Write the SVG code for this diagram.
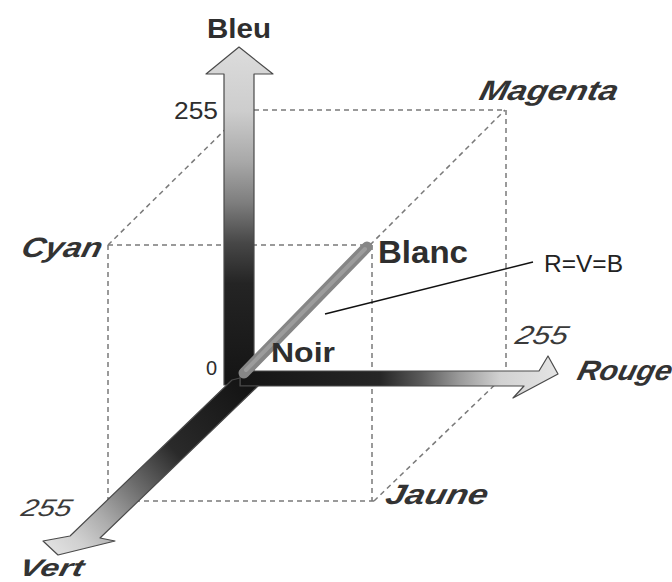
<svg xmlns="http://www.w3.org/2000/svg" width="672" height="582" viewBox="0 0 672 582">
  <style>
    .edge { fill: none; stroke: #7a7a7a; stroke-width: 1.5; stroke-dasharray: 5 4; }
    .shaft { stroke: #4a4a4a; stroke-width: 1.2; stroke-linejoin: round; }
    .bold { font-family: "Liberation Sans", Arial, sans-serif; font-weight: bold; fill: #2e2e2e; }
    .ital { font-family: "Liberation Sans", Arial, sans-serif; font-weight: bold; font-style: italic; fill: #333; }
    .ital255 { font-family: "Liberation Sans", Arial, sans-serif; font-style: italic; fill: #3a3a3a; }
    .num { font-family: "Liberation Sans", Arial, sans-serif; fill: #2e2e2e; }
    .note { font-family: "Liberation Sans", Arial, sans-serif; fill: #222; }
  </style>
  <defs>
    <linearGradient id="gBleu" gradientUnits="userSpaceOnUse" x1="0" y1="47" x2="0" y2="385">
      <stop offset="0" stop-color="#dcdcdc"/>
      <stop offset="0.19" stop-color="#cdcdcd"/>
      <stop offset="0.34" stop-color="#a8a8a8"/>
      <stop offset="0.46" stop-color="#7e7e7e"/>
      <stop offset="0.58" stop-color="#474747"/>
      <stop offset="0.70" stop-color="#242424"/>
      <stop offset="1" stop-color="#141414"/>
    </linearGradient>
    <linearGradient id="gRouge" gradientUnits="userSpaceOnUse" x1="240" y1="0" x2="558" y2="0">
      <stop offset="0" stop-color="#141414"/>
      <stop offset="0.44" stop-color="#262626"/>
      <stop offset="0.57" stop-color="#5a5a5a"/>
      <stop offset="0.69" stop-color="#9a9a9a"/>
      <stop offset="0.82" stop-color="#d2d2d2"/>
      <stop offset="1" stop-color="#e4e4e4"/>
    </linearGradient>
    <linearGradient id="gVert" gradientUnits="userSpaceOnUse" x1="240" y1="380" x2="55" y2="552">
      <stop offset="0" stop-color="#141414"/>
      <stop offset="0.38" stop-color="#2a2a2a"/>
      <stop offset="0.58" stop-color="#6a6a6a"/>
      <stop offset="0.77" stop-color="#acacac"/>
      <stop offset="0.9" stop-color="#d0d0d0"/>
      <stop offset="1" stop-color="#e0e0e0"/>
    </linearGradient>
  </defs>

  <g id="connectors">
    <line class="edge" x1="245" y1="110" x2="505" y2="110"/>
    <line class="edge" x1="108" y1="245" x2="245" y2="110"/>
    <line class="edge" x1="108" y1="245" x2="370" y2="245"/>
    <line class="edge" x1="370" y1="245" x2="505" y2="110"/>
    <line class="edge" x1="108" y1="245" x2="108" y2="500"/>
    <line class="edge" x1="372" y1="245" x2="372" y2="501"/>
    <line class="edge" x1="506" y1="110" x2="506" y2="372"/>
    <line class="edge" x1="108" y1="501" x2="374" y2="501"/>
    <line class="edge" x1="374" y1="501" x2="505" y2="375"/>
  </g>

  <g id="axe-bleu">
    <polygon class="shaft" fill="url(#gBleu)" points="224,385 224,74 206,74 239,47 273,74 254,74 254,385"/>
  </g>
  <g id="axe-rouge">
    <polygon class="shaft" fill="url(#gRouge)" points="240,371 539,371 548,356 558,374 513,398 524,386 240,386"/>
  </g>
  <g id="axe-vert">
    <polygon class="shaft" fill="url(#gVert)" points="232,380 70,536 43,541 58,555 115,541 100,538 258,386 240,386 240,378"/>
  </g>
  <g id="diagonale">
    <line x1="244" y1="373" x2="367" y2="247" stroke="#868686" stroke-width="11" stroke-linecap="round"/>
    <line x1="246" y1="370" x2="365" y2="249" stroke="#9c9c9c" stroke-width="4" stroke-linecap="round"/>
  </g>

  <g id="label-bleu"><text class="bold" x="207" y="38" font-size="27" textLength="64" lengthAdjust="spacingAndGlyphs">Bleu</text></g>
  <g id="label-255-bleu"><text class="num" x="174" y="119" font-size="23" textLength="44" lengthAdjust="spacingAndGlyphs">255</text></g>
  <g id="label-0"><text class="num" x="206" y="375" font-size="20">0</text></g>
  <g id="label-noir"><text class="bold" x="271" y="362" font-size="28" textLength="64" lengthAdjust="spacingAndGlyphs">Noir</text></g>
  <g id="label-blanc"><text class="bold" x="378" y="263" font-size="31" textLength="90" lengthAdjust="spacingAndGlyphs">Blanc</text></g>

  <g id="label-cyan"><text class="ital" transform="translate(20,257) skewX(-14)" font-size="28" textLength="80" lengthAdjust="spacingAndGlyphs">Cyan</text></g>
  <g id="label-magenta"><text class="ital" transform="translate(478,100) skewX(-14)" font-size="28" textLength="138" lengthAdjust="spacingAndGlyphs">Magenta</text></g>
  <g id="label-rouge"><text class="ital" transform="translate(576,380) skewX(-14)" font-size="28" textLength="94" lengthAdjust="spacingAndGlyphs">Rouge</text></g>
  <g id="label-jaune"><text class="ital" transform="translate(384,504) skewX(-14)" font-size="28" textLength="102" lengthAdjust="spacingAndGlyphs">Jaune</text></g>
  <g id="label-vert"><text class="ital" transform="translate(18,576) skewX(-14)" font-size="24" textLength="64" lengthAdjust="spacingAndGlyphs">Vert</text></g>
  <g id="label-255-vert"><text class="ital255" transform="translate(20,516) skewX(-14)" font-size="24" textLength="50" lengthAdjust="spacingAndGlyphs">255</text></g>
  <g id="label-255-rouge"><text class="ital255" transform="translate(514,344) skewX(-14)" font-size="26" textLength="52" lengthAdjust="spacingAndGlyphs">255</text></g>

  <g id="annotation">
    <line x1="325" y1="314" x2="533" y2="262" stroke="#111" stroke-width="1.5"/>
    <text class="note" x="544" y="272" font-size="23" textLength="79" lengthAdjust="spacingAndGlyphs">R=V=B</text>
  </g>
</svg>
